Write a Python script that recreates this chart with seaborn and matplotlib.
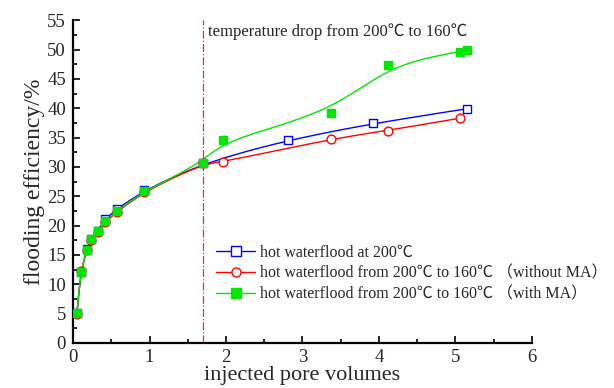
import numpy as np
import pandas as pd
import matplotlib
matplotlib.use("Agg")
import matplotlib.pyplot as plt
from matplotlib.lines import Line2D
from matplotlib.ticker import MultipleLocator
import seaborn as sns

# Injected pore volumes and flooding efficiency (%) for each run
pv_200 = [0.05, 0.10, 0.18, 0.24, 0.32, 0.42, 0.57, 0.93, 1.70, 2.81, 3.92, 5.15]
eff_200 = [5.1, 12.1, 16.0, 17.8, 19.1, 21.1, 22.8, 26.0, 30.7, 34.6, 37.4, 39.9]

pv_drop = [0.05, 0.10, 0.18, 0.24, 0.32, 0.42, 0.57, 0.93, 1.70, 1.96, 3.38, 4.12, 5.06]
eff_drop = [4.9, 12.3, 15.8, 17.6, 18.9, 20.6, 22.3, 25.8, 30.6, 30.8, 34.8, 36.2, 38.3]

pv_ma = [0.05, 0.10, 0.18, 0.24, 0.32, 0.42, 0.57, 0.93, 1.70, 1.96, 3.38, 4.12, 5.06, 5.15]
eff_ma = [5.1, 12.1, 15.9, 17.7, 19.0, 20.8, 22.5, 25.9, 30.7, 34.6, 39.2, 47.4, 49.6, 50.0]

labels = [
    "hot waterflood at 200℃",
    "hot waterflood from 200℃ to 160℃ （without MA）",
    "hot waterflood from 200℃ to 160℃ （with MA）",
]
drop_pv = 1.70
note = "temperature drop from 200℃ to 160℃"

colors = ["#0000ff", "#ff0000", "#00e600"]
markers = ["s", "o", "s"]
fills = ["white", "white", "#00e600"]


def bspline(x, y):
    """Uniform cubic B-spline over the points, clamped at both ends."""
    px = np.r_[[x[0]] * 2, x, [x[-1]] * 2]
    py = np.r_[[y[0]] * 2, y, [y[-1]] * 2]
    xs, ys = [], []
    t = np.linspace(0, 1, 30, endpoint=False)
    b0 = (1 - t) ** 3 / 6
    b1 = (3 * t**3 - 6 * t**2 + 4) / 6
    b2 = (-3 * t**3 + 3 * t**2 + 3 * t + 1) / 6
    b3 = t**3 / 6
    for i in range(len(px) - 3):
        xs.append(b0 * px[i] + b1 * px[i + 1] + b2 * px[i + 2] + b3 * px[i + 3])
        ys.append(b0 * py[i] + b1 * py[i + 1] + b2 * py[i + 2] + b3 * py[i + 3])
    xs.append([x[-1]])
    ys.append([y[-1]])
    return np.concatenate(xs), np.concatenate(ys)


sns.set_theme(style="ticks")
plt.rcParams["font.family"] = ["Liberation Serif", "Noto Sans CJK SC"]

fig = plt.figure(figsize=(6.14, 3.88), dpi=100)
ax = fig.add_axes([0.119, 0.116, 0.747, 0.832])

series = [(pv_200, eff_200), (pv_drop, eff_drop), (pv_ma, eff_ma)]
for (xv, yv), c, m, fc in zip(series, colors, markers, fills):
    sx, sy = bspline(np.array(xv, float), np.array(yv, float))
    curve = pd.DataFrame({"pv": sx, "eff": sy})
    sns.lineplot(data=curve, x="pv", y="eff", ax=ax, color=c, lw=1.0,
                 sort=False, estimator=None)
    pts = pd.DataFrame({"pv": xv, "eff": yv})
    sns.scatterplot(data=pts, x="pv", y="eff", ax=ax, marker=m, s=40,
                    facecolor=fc, edgecolor=c, linewidth=1.0, zorder=3)

ax.axvline(drop_pv, color="#e0303a", lw=0.9, ls="-.")
ax.text(drop_pv + 0.06, 53.1, note, fontsize=12, ha="left", va="center")

ax.set_xlim(0, 6)
ax.set_ylim(0, 55)
ax.xaxis.set_major_locator(MultipleLocator(1))
ax.xaxis.set_minor_locator(MultipleLocator(0.5))
ax.yaxis.set_major_locator(MultipleLocator(5))
ax.yaxis.set_minor_locator(MultipleLocator(2.5))
ax.tick_params(which="both", direction="in", color="black", width=1.2)
ax.tick_params(which="major", length=5, labelsize=13.5)
ax.tick_params(axis="x", which="major", pad=4)
ax.tick_params(axis="y", which="major", pad=5)
ax.tick_params(which="minor", length=3)
for s in ["left", "bottom"]:
    ax.spines[s].set_linewidth(1.6)
    ax.spines[s].set_color("black")
sns.despine(ax=ax)

ax.set_xlabel("injected pore volumes", fontsize=16, labelpad=0)
ax.set_ylabel("flooding efficiency/%", fontsize=17, labelpad=2)

handles = [
    Line2D([], [], color=c, marker=m, markerfacecolor=fc, markeredgecolor=c,
           markersize=6.5, lw=1.0)
    for c, m, fc in zip(colors, markers, fills)
]
ax.legend(handles, labels, loc="center left", bbox_to_anchor=(0.312, 0.215),
          frameon=False, fontsize=11.5, handlelength=2.45, handletextpad=0.3,
          labelspacing=0.33, borderaxespad=0, borderpad=0)

fig.savefig("out.png", dpi=100, facecolor="white")
